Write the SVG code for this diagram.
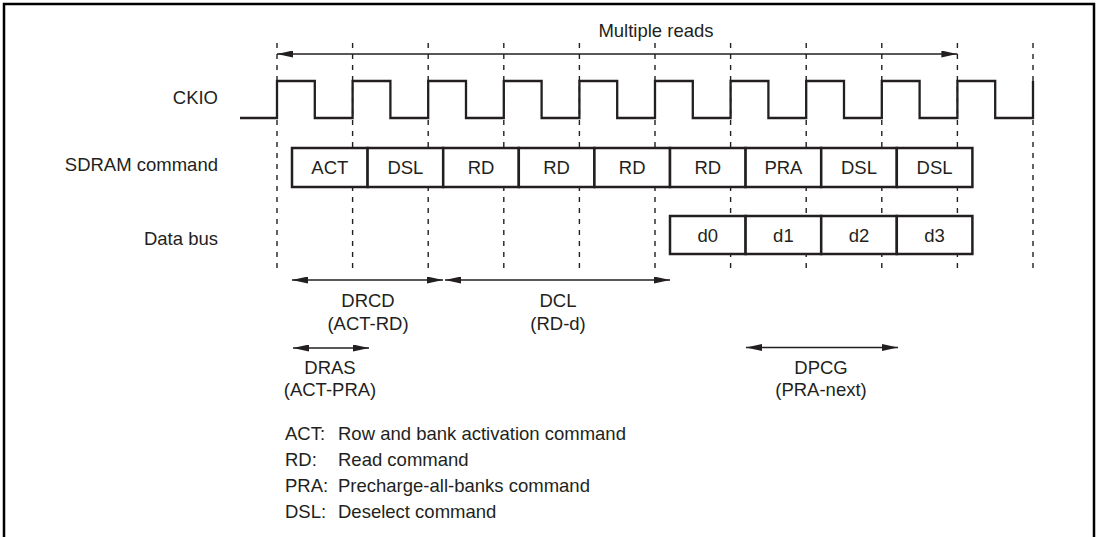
<svg xmlns="http://www.w3.org/2000/svg" width="1101" height="537" viewBox="0 0 1101 537">
<style>
text{font-family:"Liberation Sans",Arial,sans-serif;font-size:18.5px;fill:#231f20}
.c{text-anchor:middle}
.r{text-anchor:end}
.box{fill:#fff;stroke:#231f20;stroke-width:2.5}
.dash{stroke:#231f20;stroke-width:1.4;stroke-dasharray:5 6;fill:none}
.arr{stroke:#231f20;stroke-width:1.3;fill:none;marker-start:url(#ah);marker-end:url(#ah)}
.clk{stroke:#231f20;stroke-width:2.3;fill:none}
</style>
<defs>
<marker id="ah" viewBox="0 0 16 7" refX="16" refY="3.5" markerWidth="16" markerHeight="7" markerUnits="userSpaceOnUse" orient="auto-start-reverse">
<path d="M0,0 L16,3.5 L0,7 z" fill="#231f20"/>
</marker>
</defs>
<rect width="1101" height="537" fill="#fff"/>
<path id="frame" d="M4,537 V4 H1094 V537" fill="none" stroke="#000" stroke-width="2.5"/>

<g id="gridlines">
<line class="dash" x1="277" y1="43" x2="277" y2="270"/>
<line class="dash" x1="352.6" y1="43" x2="352.6" y2="270"/>
<line class="dash" x1="428.2" y1="43" x2="428.2" y2="270"/>
<line class="dash" x1="503.8" y1="43" x2="503.8" y2="270"/>
<line class="dash" x1="579.4" y1="43" x2="579.4" y2="270"/>
<line class="dash" x1="655" y1="43" x2="655" y2="270"/>
<line class="dash" x1="730.6" y1="43" x2="730.6" y2="270"/>
<line class="dash" x1="806.2" y1="43" x2="806.2" y2="270"/>
<line class="dash" x1="881.8" y1="43" x2="881.8" y2="270"/>
<line class="dash" x1="957.4" y1="43" x2="957.4" y2="270"/>
<line class="dash" x1="1033" y1="43" x2="1033" y2="270"/>
</g>

<g id="labels">
<text class="r" x="218" y="104">CKIO</text>
<text class="r" x="218" y="171">SDRAM command</text>
<text class="r" x="218" y="245">Data bus</text>
</g>

<g id="ckio">
<path class="clk" d="M240,118 H277 V81 H314.8 V118 H352.6 V81 H390.4 V118 H428.2 V81 H466 V118 H503.8 V81 H541.6 V118 H579.4 V81 H617.2 V118 H655 V81 H692.8 V118 H730.6 V81 H768.4 V118 H806.2 V81 H844 V118 H881.8 V81 H919.6 V118 H957.4 V81 H995.2 V118 H1033 V81"/>
</g>

<g id="cmd">
<g id="cmd-act"><rect class="box" x="292" y="148" width="75.6" height="39"/><text class="c" x="329.8" y="174">ACT</text></g>
<g id="cmd-dsl1"><rect class="box" x="367.6" y="148" width="75.6" height="39"/><text class="c" x="405.4" y="174">DSL</text></g>
<g id="cmd-rd1"><rect class="box" x="443.2" y="148" width="75.6" height="39"/><text class="c" x="481" y="174">RD</text></g>
<g id="cmd-rd2"><rect class="box" x="518.8" y="148" width="75.6" height="39"/><text class="c" x="556.6" y="174">RD</text></g>
<g id="cmd-rd3"><rect class="box" x="594.4" y="148" width="75.6" height="39"/><text class="c" x="632.2" y="174">RD</text></g>
<g id="cmd-rd4"><rect class="box" x="670" y="148" width="75.6" height="39"/><text class="c" x="707.8" y="174">RD</text></g>
<g id="cmd-pra"><rect class="box" x="745.6" y="148" width="75.6" height="39"/><text class="c" x="783.4" y="174">PRA</text></g>
<g id="cmd-dsl2"><rect class="box" x="821.2" y="148" width="75.6" height="39"/><text class="c" x="859" y="174">DSL</text></g>
<g id="cmd-dsl3"><rect class="box" x="896.8" y="148" width="75.6" height="39"/><text class="c" x="934.6" y="174">DSL</text></g>
</g>

<g id="data">
<g id="data-d0"><rect class="box" x="670" y="216" width="75.6" height="38"/><text class="c" x="707.8" y="242">d0</text></g>
<g id="data-d1"><rect class="box" x="745.6" y="216" width="75.6" height="38"/><text class="c" x="783.4" y="242">d1</text></g>
<g id="data-d2"><rect class="box" x="821.2" y="216" width="75.6" height="38"/><text class="c" x="859" y="242">d2</text></g>
<g id="data-d3"><rect class="box" x="896.8" y="216" width="75.6" height="38"/><text class="c" x="934.6" y="242">d3</text></g>
</g>

<g id="connectors">
<line class="arr" x1="277" y1="54" x2="957.4" y2="54"/>
<line class="arr" x1="292" y1="280" x2="443" y2="280"/>
<line class="arr" x1="445" y1="280" x2="670" y2="280"/>
<line class="arr" x1="293" y1="348" x2="369" y2="348"/>
<line class="arr" x1="746" y1="347.5" x2="898" y2="347.5"/>
</g>

<g id="timing-labels">
<text class="c" x="656" y="37">Multiple reads</text>
<text class="c" x="368" y="307">DRCD</text>
<text class="c" x="368" y="330">(ACT-RD)</text>
<text class="c" x="558" y="307">DCL</text>
<text class="c" x="558" y="330">(RD-d)</text>
<text class="c" x="330" y="374">DRAS</text>
<text class="c" x="330" y="396">(ACT-PRA)</text>
<text class="c" x="821" y="374">DPCG</text>
<text class="c" x="821" y="396">(PRA-next)</text>
</g>

<g id="legend">
<text x="285" y="440">ACT:</text><text x="338" y="440">Row and bank activation command</text>
<text x="285" y="466">RD:</text><text x="338" y="466">Read command</text>
<text x="285" y="492">PRA:</text><text x="338" y="492">Precharge-all-banks command</text>
<text x="285" y="518">DSL:</text><text x="338" y="518">Deselect command</text>
</g>
</svg>
